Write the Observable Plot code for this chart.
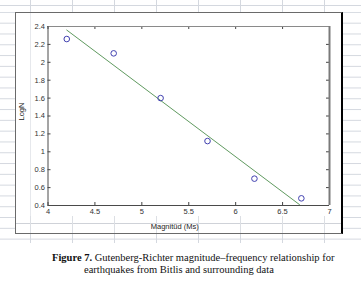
<!DOCTYPE html>
<html><head><meta charset="utf-8">
<script src="https://cdn.jsdelivr.net/npm/d3@7"></script>
<script src="https://cdn.jsdelivr.net/npm/@observablehq/plot@0.6"></script>
<style>
html,body{margin:0;padding:0;background:#fff;width:361px;height:283px;overflow:hidden;}
body{position:relative;}
.abs{position:absolute;}
#cols{left:0;top:0;width:361px;height:243px;
  background-image:linear-gradient(to right,#d4d8df 1px,transparent 1px);
  background-size:42px 100%;background-position:30px 0;}
#rows{left:0;top:12px;width:361px;height:231px;
  background-image:linear-gradient(to bottom,#d4d8df 1px,transparent 1px);
  background-size:100% 10.8px;background-position:0 10.7px;}
#hdr{left:0;top:5px;width:361px;height:1px;background:#d4d8df;}
#frame{left:15px;top:12px;width:328px;height:222px;box-sizing:border-box;background:#fff;
  border-left:1px solid #6a6a6a;border-top:1px solid #6a6a6a;border-bottom:1px solid #6a6a6a;border-right:2px solid #000;}
#strip{left:16px;top:216px;width:325px;height:17px;
  background-image:linear-gradient(to right,#dcdfe4 1px,transparent 1px),linear-gradient(to bottom,#cfd2d8 1px,transparent 1px);
  background-size:42px 100%,100% 40px;background-position:14px 0,0 7px;background-repeat:repeat-x,repeat-x;}
#vline{left:30px;top:13px;width:1px;height:203px;background:#e6e8ec;}
#chart{left:0;top:0;}
.cap{position:absolute;font-family:"Liberation Serif","Times New Roman",serif;font-size:10.5px;line-height:12px;color:#111;white-space:nowrap;}
</style></head>
<body>
<div id="cols" class="abs"></div>
<div id="rows" class="abs"></div>
<div id="hdr" class="abs"></div>
<div id="frame" class="abs"></div>
<div id="strip" class="abs"></div>
<div id="vline" class="abs"></div>
<div id="chart" class="abs"></div>
<div class="cap" style="left:52px;top:252px;"><b>Figure 7.</b> Gutenberg-Richter magnitude–frequency relationship for</div>
<div class="cap" style="left:84px;top:264px;">earthquakes from Bitlis and surrounding data</div>
<script>
// Observed data (magnitude Ms vs log N)
const magnitude = [4.2, 4.7, 5.2, 5.7, 6.2, 6.7];
const logN = [2.26, 2.10, 1.60, 1.12, 0.70, 0.48];
// Fitted line end points
const fitX = [4.2, 6.68];
const fitY = [2.36, 0.41];
// Tick labels
const xTicks = [4, 4.5, 5, 5.5, 6, 6.5, 7];
const yTicks = [0.4, 0.6, 0.8, 1, 1.2, 1.4, 1.6, 1.8, 2, 2.2, 2.4];
const xLabel = "Magnitüd (Ms)";
const yLabel = "LogN";

const points = magnitude.map((m, i) => ({m, n: logN[i]}));
const fit = fitX.map((x, i) => ({x, y: fitY[i]}));
const fmt = d => String(d);
const innerH = 179, innerW = 281.5;

const chart = Plot.plot({
  width: 361, height: 245,
  marginLeft: 47.5, marginRight: 32, marginTop: 26, marginBottom: 40,
  style: {background: "transparent", fontFamily: "'Liberation Sans', Arial, sans-serif", fontSize: "7.5px", color: "#333"},
  x: {domain: [4, 7]},
  y: {domain: [0.4, 2.4]},
  marks: [
    Plot.axisX(xTicks, {tickSize: 0, tickPadding: 3, tickFormat: fmt, label: null, fill: "#333"}),
    Plot.axisY(yTicks, {tickSize: 0, tickPadding: 3, tickFormat: fmt, label: null, fill: "#333"}),
    // inward ticks on all four sides
    Plot.tickX(xTicks, {x: d => d, insetTop: innerH - 3, stroke: "#444"}),
    Plot.tickX(xTicks, {x: d => d, insetBottom: innerH - 3, stroke: "#444"}),
    Plot.tickY(yTicks, {y: d => d, insetRight: innerW - 3, stroke: "#444"}),
    Plot.tickY(yTicks, {y: d => d, insetLeft: innerW - 3, stroke: "#444"}),
    // box
    Plot.ruleY([2.4], {stroke: "#8a8a8a"}),
    Plot.ruleX([7], {stroke: "#7a7a7a", strokeWidth: 2}),
    Plot.ruleX([4], {stroke: "#4a4a4a"}),
    Plot.ruleY([0.4], {stroke: "#4a4a4a"}),
    // fit line and observations
    Plot.line(fit, {x: "x", y: "y", stroke: "#5f9a5f", strokeWidth: 1}),
    Plot.dot(points, {x: "m", y: "n", r: 2.8, stroke: "#4040b0", strokeWidth: 1, fill: "none"}),
    // axis titles
    Plot.text([xLabel], {frameAnchor: "bottom", text: d => d, dx: -14, dy: 23.5, fill: "#222", fontSize: 7.5}),
    Plot.text([yLabel], {frameAnchor: "left", text: d => d, rotate: -90, dx: -26.5, dy: 4.5, fill: "#222", fontSize: 7.5})
  ]
});
document.getElementById("chart").appendChild(chart);
</script>
</body></html>
